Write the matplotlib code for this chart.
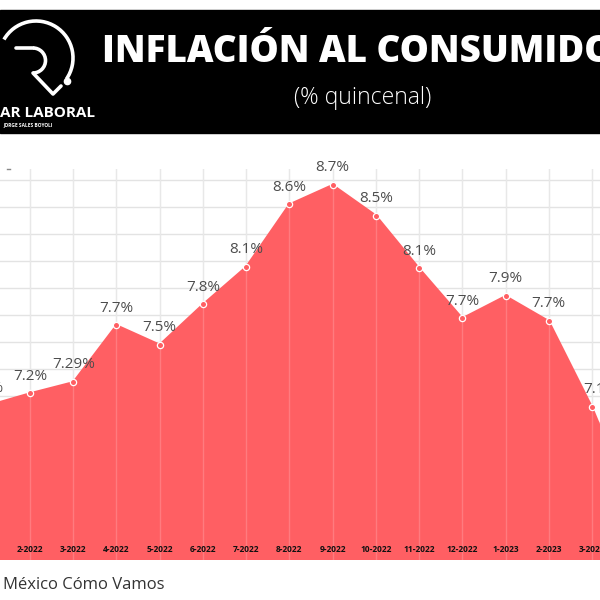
import numpy as np
import matplotlib.pyplot as plt
from matplotlib.patches import Arc, Rectangle
from matplotlib.transforms import blended_transform_factory

months = ['1-2022', '2-2022', '3-2022', '4-2022', '5-2022', '6-2022', '7-2022',
          '8-2022', '9-2022', '10-2022', '11-2022', '12-2022', '1-2023',
          '2-2023', '3-2023', '4-2023']
values = [7.11, 7.2, 7.28, 7.69, 7.55, 7.84, 8.11, 8.56, 8.7, 8.48, 8.1,
          7.74, 7.9, 7.72, 7.1, 6.35]
labels = ['7.1%', '7.2%', '7.29%', '7.7%', '7.5%', '7.8%', '8.1%', '8.6%',
          '8.7%', '8.5%', '8.1%', '7.7%', '7.9%', '7.7%', '7.1%', '6.3%']

red = '#ff5f63'
plt.rcParams['font.family'] = ['Open Sans', 'DejaVu Sans']

fig = plt.figure(figsize=(6, 6), dpi=100)

# header / logo layer in pixel coords
bg = fig.add_axes([0, 0, 1, 1])
bg.set_xlim(0, 600)
bg.set_ylim(600, 0)
bg.axis('off')
bg.add_patch(Rectangle((0, 10), 600, 123, color='black'))
bg.add_patch(Arc((36, 58), 74, 74, theta1=-150, theta2=35, color='white', lw=2.6))
bg.plot([16, 33], [48, 48], color='white', lw=2.6, solid_capstyle='round')
bg.add_patch(Arc((33, 60.5), 25, 25, theta1=-90, theta2=90, color='white', lw=2.6))
bg.plot([33, 53, 61], [73, 94, 86], color='white', lw=2.6, solid_capstyle='round')
bg.plot([67], [81], 'o', color='white', ms=4.5)
bg.text(0, 113, 'AR LABORAL', color='white', fontsize=11, fontweight='bold',
        ha='left', va='center')
bg.text(3, 125, 'JORGE SALES BOYOLI', color='white', fontsize=3.5,
        fontweight='bold', ha='left', va='center')
bg.text(102, 52, 'INFLACIÓN AL CONSUMIDOR', color='white', fontsize=26.5,
        fontweight='heavy', ha='left', va='center')
bg.text(363, 98, '(% quincenal)', color='white', fontsize=16.5,
        fontweight='light', ha='center', va='center')
bg.text(3, 585, 'México Cómo Vamos', color='#333333', fontsize=12,
        ha='left', va='center')
bg.plot([7, 10], [169, 169], color='#888888', lw=1)

ax = fig.add_axes([0, 40 / 600, 1, 391 / 600])
x = np.arange(len(months))
ax.set_xlim(1 - 30 / 43.23, 1 + 570 / 43.23)
ax.set_ylim(6.0, 8.815)

for v in np.linspace(6.02, 8.736, 15):
    ax.axhline(v, color='#e3e3e3', lw=1, zorder=0)
for xi in x:
    ax.axvline(xi, color='#e3e3e3', lw=1, zorder=0)

ax.fill_between(x, values, 5.0, color=red, lw=0, zorder=1)
for xi in x:
    ax.axvline(xi, color='white', alpha=0.18, lw=1, zorder=2)
ax.plot(x, values, color=red, lw=1.5, marker='o', ms=4.5, mfc=red,
        mec='white', mew=0.9, zorder=3)

for xi, v, lab in zip(x, values, labels):
    dx = 6 if xi == 14 else 0
    ax.annotate(lab, (xi, v), xytext=(dx, 7), textcoords='offset points',
                ha='center', va='bottom', fontsize=11, color='#4d4d4d',
                annotation_clip=False)

tr = blended_transform_factory(ax.transData, ax.transAxes)
for xi, m in zip(x, months):
    ax.text(xi, 0.028, m, transform=tr, ha='center', va='center',
            fontsize=6, fontweight='bold', color='#111111', zorder=4)

ax.axis('off')
fig.savefig('out.png', dpi=100)
